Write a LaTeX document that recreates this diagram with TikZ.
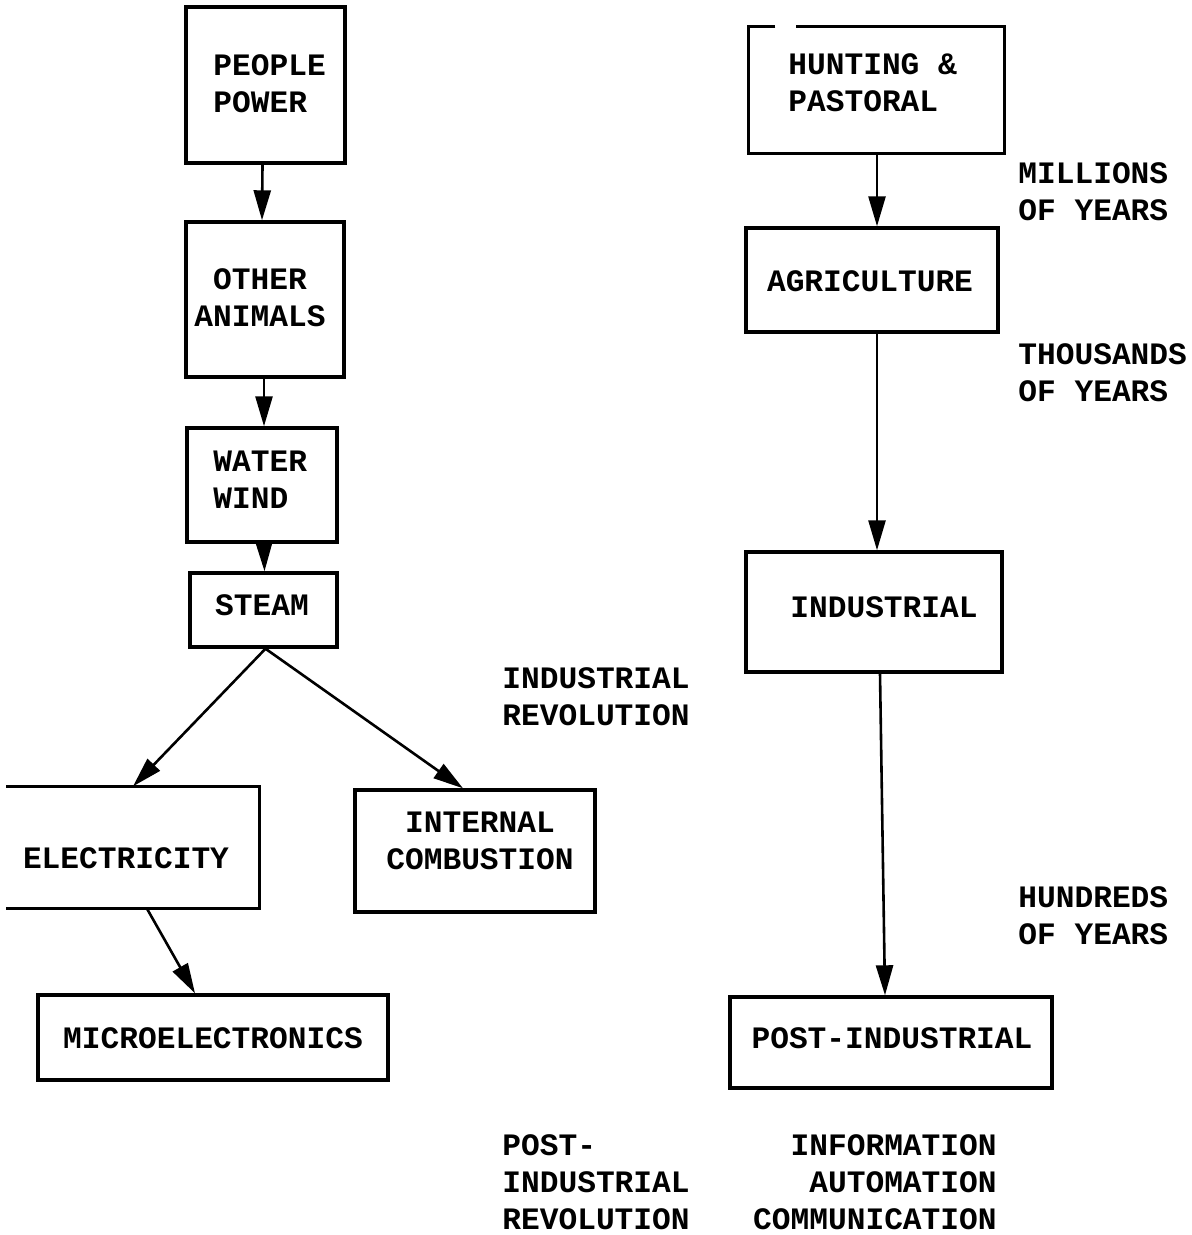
\documentclass[tikz,border=0pt]{standalone}
\usepackage{fontspec}
\setmainfont{Liberation Mono}
\usetikzlibrary{arrows.meta,calc}
\begin{document}
\begin{tikzpicture}[x=0.5pt,y=-0.5pt,
  txt/.style={font=\fontsize{15.6}{18.5}\selectfont\bfseries},
  box/.style={draw,line width=1.7pt,inner sep=0pt},
  lbl/.style={txt,inner sep=0pt},
  arr/.style={line width=1.3pt,-{Triangle[length=15pt,width=8.5pt]}}]
\useasboundingbox (0,0) rectangle (1192,1235);
% left column boxes
\node[box,minimum width=79.5pt,minimum height=78pt] (pp) at (265.5,85) {};
\node[box,minimum width=79pt,minimum height=77.5pt] (oa) at (265,299.5) {};
\node[box,minimum width=75pt,minimum height=57pt] (ww) at (262,485) {};
\node[box,minimum width=73.5pt,minimum height=37pt] (st) at (263.5,610) {};
\node[box,draw=none,minimum width=125pt,minimum height=59.5pt] (el) at (133,847.5) {};
\draw[line width=1.7pt] (el.north west) -- (el.north east) -- (el.south east) -- (el.south west);
\node[box,minimum width=120pt,minimum height=61pt] (ic) at (475,851) {};
\node[box,minimum width=175pt,minimum height=42.5pt] (me) at (213,1037.5) {};
% right column boxes
\node[box,draw=none,minimum width=126.5pt,minimum height=62pt] (hp) at (876.5,90) {};
\draw[line width=1.7pt] ($(hp.north west)+(27,0)$) -- (hp.north west) -- (hp.south west) -- (hp.south east) -- (hp.north east) -- ($(hp.north west)+(48,0)$);
\node[box,minimum width=126pt,minimum height=52pt] (ag) at (872,280) {};
\node[box,minimum width=128pt,minimum height=60pt] (in) at (874,612) {};
\node[box,minimum width=161pt,minimum height=45.5pt] (pi) at (891,1042.5) {};
% box texts
\node[lbl,anchor=west,align=left] (ppt) at (213,83.5) {PEOPLE\\POWER};
\node[lbl,align=center] (oat) at (260,298) {OTHER\\ANIMALS};
\node[lbl,anchor=west,align=left] (wwt) at (213,480) {WATER\\WIND};
\node[lbl] (stt) at (262,605) {STEAM};
\node[lbl] (elt) at (126,858) {ELECTRICITY};
\node[lbl,align=center] (ict) at (480,841) {INTERNAL\\COMBUSTION};
\node[lbl] (met) at (213,1038) {MICROELECTRONICS};
\node[lbl,anchor=west,align=left] (hpt) at (788,83) {HUNTING \&\\PASTORAL};
\node[lbl] (agt) at (870,281) {AGRICULTURE};
\node[lbl] (int) at (884,607) {INDUSTRIAL};
\node[lbl] (pit) at (892,1038) {POST-INDUSTRIAL};
% connectors
\draw[arr] ($(pp.south)+(-3,0)$) -- ($(oa.north)+(-3,0)$);
\draw[arr] ($(oa.south)+(-1,0)$) -- ($(ww.north)+(2,0)$);
\draw[arr] ($(ww.south)+(2,0)$) -- ($(st.north)+(1,0)$);
\draw[arr] ($(st.south)+(2,0)$) -- (el.north);
\draw[arr] ($(st.south)+(2,0)$) -- ($(ic.north)+(-12,0)$);
\draw[arr] ($(el.south)+(14,0)$) -- ($(me.north)+(-18,0)$);
\draw[arr] ($(hp.south)+(0.5,0)$) -- ($(ag.north)+(5,0)$);
\draw[arr] ($(ag.south)+(5,0)$) -- ($(in.north)+(3,0)$);
\draw[arr] ($(in.south)+(6,0)$) -- ($(pi.north)+(-6,0)$);
% labels
\node[lbl,anchor=west,align=left] (l1) at (1018,191.5) {MILLIONS\\OF YEARS};
\node[lbl,anchor=west,align=left] (l2) at (1018,372.5) {THOUSANDS\\OF YEARS};
\node[lbl,anchor=west,align=left] (l3) at (1018,916) {HUNDREDS\\OF YEARS};
\node[lbl,anchor=west,align=left] (l4) at (502,696.5) {INDUSTRIAL\\REVOLUTION};
\node[lbl,anchor=west,align=left] (l5) at (502,1182) {POST-\\INDUSTRIAL\\REVOLUTION};
\node[lbl,anchor=east,align=right] (l6) at (997,1182) {INFORMATION\\AUTOMATION\\COMMUNICATION};
\end{tikzpicture}
\end{document}
